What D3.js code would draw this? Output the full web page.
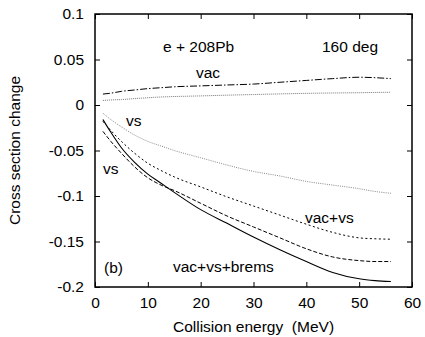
<!DOCTYPE html>
<html>
<head>
<meta charset="utf-8">
<script src="https://cdn.jsdelivr.net/npm/d3@7"></script>
<style>
  body { margin: 0; background: #fff; }
  svg { display: block; font-family: "Liberation Sans", Arial, sans-serif; }
</style>
</head>
<body>
<div id="chart"></div>
<script>
// energies (MeV) where curves were read
const energia = [1.5, 3, 5, 7.5, 10, 12.5, 15, 20, 25, 30, 35, 40, 45, 50, 53, 56];

const vac        = [0.012, 0.013, 0.015, 0.0165, 0.018, 0.019, 0.020, 0.021, 0.022, 0.023, 0.025, 0.027, 0.029, 0.0305, 0.030, 0.029];
const vacPunteado= [0.005, 0.0055, 0.006, 0.007, 0.008, 0.0088, 0.0093, 0.010, 0.0108, 0.0115, 0.0122, 0.0128, 0.0132, 0.0135, 0.0138, 0.014];
const vs         = [-0.009, -0.016, -0.024, -0.033, -0.040, -0.045, -0.050, -0.058, -0.066, -0.073, -0.078, -0.084, -0.088, -0.092, -0.095, -0.097];
const vacVs      = [-0.018, -0.028, -0.040, -0.053, -0.064, -0.072, -0.079, -0.090, -0.101, -0.111, -0.121, -0.131, -0.140, -0.146, -0.147, -0.1475];
const vsDashed   = [-0.029, -0.040, -0.053, -0.068, -0.080, -0.088, -0.094, -0.108, -0.122, -0.134, -0.146, -0.158, -0.167, -0.171, -0.172, -0.172];
const vacVsBrems = [-0.016, -0.030, -0.047, -0.063, -0.076, -0.086, -0.096, -0.115, -0.130, -0.145, -0.159, -0.172, -0.184, -0.191, -0.193, -0.194];

const ticksX = [0, 10, 20, 30, 40, 50, 60];
const ticksY = [0.1, 0.05, 0, -0.05, -0.1, -0.15, -0.2];
const etiquetasY = ["0.1", "0.05", "0", "-0.05", "-0.1", "-0.15", "-0.2"];

const width = 425, height = 337;
const margen = { left: 95, right: 13, top: 14, bottom: 50 };
const fuente = "15.5px";

const svg = d3.select("#chart").append("svg")
    .attr("width", width)
    .attr("height", height);

const x = d3.scaleLinear().domain([0, 60]).range([margen.left, width - margen.right]);
const y = d3.scaleLinear().domain([-0.2, 0.1]).range([height - margen.bottom, margen.top]);

// ejes con ticks hacia dentro en los cuatro lados
const ejeAbajo = d3.axisBottom(x).tickValues(ticksX).tickSize(-5).tickPadding(10).tickFormat(d3.format("d"));
const ejeArriba = d3.axisTop(x).tickValues(ticksX).tickSize(-5).tickFormat("");
const ejeIzq = d3.axisLeft(y).tickValues(ticksY).tickSize(-5).tickPadding(11)
    .tickFormat((d, i) => etiquetasY[i]);
const ejeDer = d3.axisRight(y).tickValues(ticksY).tickSize(-5).tickFormat("");

function estilo(g) {
    g.select(".domain").remove();
    g.selectAll(".tick line").attr("stroke", "#000").attr("stroke-width", 1);
    g.selectAll(".tick text").attr("fill", "#000").style("font-size", fuente)
        .style("font-family", "'Liberation Sans', Arial, sans-serif");
}

svg.append("g").attr("transform", `translate(0,${y(-0.2)})`).call(ejeAbajo).call(estilo);
svg.append("g").attr("transform", `translate(0,${y(0.1)})`).call(ejeArriba).call(estilo);
svg.append("g").attr("transform", `translate(${x(0)},0)`).call(ejeIzq).call(estilo);
svg.append("g").attr("transform", `translate(${x(60)},0)`).call(ejeDer).call(estilo);

svg.append("rect")
    .attr("x", x(0)).attr("y", y(0.1))
    .attr("width", x(60) - x(0)).attr("height", y(-0.2) - y(0.1))
    .attr("fill", "none").attr("stroke", "#000").attr("stroke-width", 1.5);

const linea = d3.line()
    .x((d, i) => x(energia[i]))
    .y(d => y(d))
    .curve(d3.curveMonotoneX);

const curvas = [
    { datos: vacPunteado, color: "#777", dash: "1,1", ancho: 1 },
    { datos: vac, color: "#000", dash: "7,2,1.5,2", ancho: 1 },
    { datos: vs, color: "#888", dash: "1,1.2", ancho: 1 },
    { datos: vacVs, color: "#000", dash: "2,2.5", ancho: 1 },
    { datos: vsDashed, color: "#000", dash: "4,2", ancho: 1 },
    { datos: vacVsBrems, color: "#000", dash: null, ancho: 1.1 }
];

svg.selectAll("path.curva")
    .data(curvas)
    .enter().append("path")
    .attr("class", "curva")
    .attr("d", d => linea(d.datos))
    .attr("fill", "none")
    .attr("stroke", d => d.color)
    .attr("stroke-width", d => d.ancho)
    .attr("stroke-dasharray", d => d.dash);

// textos dentro del grafico
const textos = [
    { t: "e + 208Pb", x: 163, y: 52 },
    { t: "160 deg", x: 322, y: 52 },
    { t: "vac", x: 196, y: 78 },
    { t: "vs", x: 126, y: 126 },
    { t: "vs", x: 103, y: 174 },
    { t: "vac+vs", x: 305, y: 223 },
    { t: "vac+vs+brems", x: 173, y: 272 },
    { t: "(b)", x: 104, y: 273 }
];

svg.selectAll("text.etiqueta")
    .data(textos)
    .enter().append("text")
    .attr("class", "etiqueta")
    .attr("x", d => d.x)
    .attr("y", d => d.y)
    .style("font-size", fuente)
    .text(d => d.t);

svg.append("text")
    .attr("x", (x(0) + x(60)) / 2)
    .attr("y", 332)
    .attr("text-anchor", "middle")
    .style("font-size", fuente)
    .style("white-space", "pre")
    .text("Collision energy  (MeV)");

svg.append("text")
    .attr("transform", `translate(20,${(y(0.1) + y(-0.2)) / 2}) rotate(-90)`)
    .attr("text-anchor", "middle")
    .style("font-size", fuente)
    .text("Cross section change");
</script>
</body>
</html>
